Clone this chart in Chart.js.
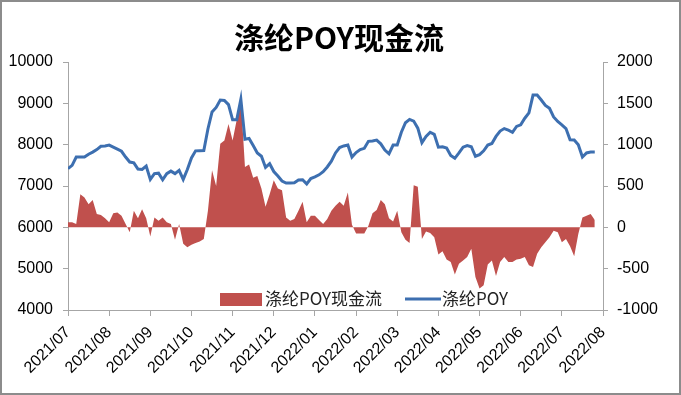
<!DOCTYPE html>
<html>
<head>
<meta charset="utf-8">
<script src="https://cdn.jsdelivr.net/npm/chart.js@4/dist/chart.umd.min.js"></script>
<style>
  body { margin: 0; background: #fff; }
  #wrap { width: 681px; height: 395px; }
</style>
</head>
<body>
<div id="wrap"><canvas id="grafico" width="681" height="395"></canvas></div>
<script>
// 月份刻度 (x 轴)
const meses = ['2021/07', '2021/08', '2021/09', '2021/10', '2021/11', '2021/12', '2022/01',
  '2022/02', '2022/03', '2022/04', '2022/05', '2022/06', '2022/07', '2022/08'];

// 每 0.1 个月取一个点
const passo = 0.1;

// 涤纶POY 价格 (左轴)
const precoPOY = [
  7420, 7500, 7700, 7700, 7700, 7770, 7820, 7880, 7960, 7970,
  7990, 7940, 7890, 7840, 7700, 7580, 7560, 7410, 7400, 7480,
  7160, 7300, 7310, 7150, 7300, 7360, 7300, 7380, 7160, 7400,
  7680, 7850, 7854, 7860, 8380, 8790, 8900, 9080, 9070, 8970,
  8600, 8600, 9100, 8130, 8150, 7980, 7800, 7720, 7450, 7540,
  7350, 7240, 7120, 7070, 7070, 7080, 7145, 7150, 7050, 7180,
  7220, 7270, 7345, 7460, 7600, 7800, 7930, 7970, 7990, 7700,
  7810, 7880, 7912, 8080, 8090, 8110, 8020, 7870, 7780, 7990,
  7990, 8300, 8530, 8610, 8570, 8400, 8050, 8200, 8300, 8250,
  7940, 7950, 7920, 7740, 7670, 7800, 7940, 7980, 7950, 7720,
  7760, 7850, 7990, 8030, 8200, 8330, 8390, 8350, 8300, 8440,
  8480, 8640, 8770, 9200, 9200, 9080, 8950, 8880, 8670, 8560,
  8480, 8390, 8120, 8112, 8000, 7700, 7800, 7820, 7820
];

// 涤纶POY 现金流 (右轴)
const fluxoCaixa = [
  60, 60, 40, 400, 360, 280, 330, 160, 150, 110,
  60, 170, 180, 140, 40, -60, 200, 110, 220, 110,
  -110, 120, 80, 120, 60, 40, -150, 40, -200, -240,
  -210, -190, -170, -140, 200, 690, 500, 1010, 1050, 1250,
  1050, 1300, 1560, 730, 760, 600, 620, 470, 250, 400,
  570, 470, 450, 120, 80, 100, 200, 310, 60, 140,
  140, 90, 40, 100, 200, 260, 310, 260, 420, 30,
  -75, -75, -75, 20, 170, 210, 330, 280, 110, 70,
  200, -60, -150, -190, 510, 490, -140, -50, -70, -120,
  -330, -290, -390, -420, -570, -440, -400, -360, -260, -600,
  -740, -700, -450, -400, -590, -420, -360, -420, -420, -390,
  -380, -360, -460, -480, -320, -240, -180, -120, -40, -60,
  -180, -140, -230, -350, -80, 120, 140, 160, 90
];

const pontosPOY = precoPOY.map((v, i) => ({ x: i * passo, y: v }));
const pontosFluxo = fluxoCaixa.map((v, i) => ({ x: i * passo, y: v }));

const corEixo = '#a6a6a6';
const fonteEixo = { family: 'Liberation Sans', size: 16 };

// título, legenda dentro da área e moldura
const extras = {
  id: 'extras',
  beforeDraw(chart) {
    const ctx = chart.ctx;
    ctx.save();
    ctx.fillStyle = '#fff';
    ctx.fillRect(0, 0, chart.width, chart.height);
    ctx.restore();
  },
  afterDraw(chart) {
    const ctx = chart.ctx;
    const area = chart.chartArea;
    ctx.save();
    ctx.fillStyle = '#000';
    ctx.font = 'bold 30px "Noto Sans CJK SC"';
    ctx.textAlign = 'center';
    ctx.textBaseline = 'middle';
    ctx.fillText('涤纶POY现金流', 339, 38);

    const yLeg = area.bottom - 11;
    const dsArea = chart.data.datasets[1];
    const dsLinha = chart.data.datasets[0];
    ctx.font = '17px "Noto Sans CJK SC"';
    ctx.textAlign = 'left';
    ctx.fillStyle = dsArea.backgroundColor;
    ctx.fillRect(area.left + 152, yLeg - 6, 42, 13);
    ctx.fillStyle = '#222';
    ctx.fillText(dsArea.label, area.left + 197, yLeg);
    ctx.strokeStyle = dsLinha.borderColor;
    ctx.lineWidth = 3;
    ctx.beginPath();
    ctx.moveTo(area.left + 337, yLeg);
    ctx.lineTo(area.left + 373, yLeg);
    ctx.stroke();
    ctx.fillText(dsLinha.label, area.left + 374, yLeg);

    ctx.strokeStyle = '#8c8c8c';
    ctx.lineWidth = 2;
    ctx.strokeRect(1, 1, chart.width - 2, chart.height - 2);
    ctx.restore();
  }
};

new Chart(document.getElementById('grafico'), {
  type: 'line',
  data: {
    datasets: [
      {
        label: '涤纶POY',
        data: pontosPOY,
        yAxisID: 'y',
        borderColor: '#3d6fb0',
        borderWidth: 3,
        pointRadius: 0,
        fill: false,
        order: 0
      },
      {
        label: '涤纶POY现金流',
        data: pontosFluxo,
        yAxisID: 'y2',
        borderWidth: 0,
        borderColor: '#c0504d',
        backgroundColor: '#c0504d',
        pointRadius: 0,
        fill: 'origin',
        order: 1
      }
    ]
  },
  options: {
    responsive: false,
    animation: false,
    devicePixelRatio: 1,
    layout: { padding: { top: 62, left: 0, right: 0, bottom: 0 } },
    plugins: {
      legend: { display: false },
      title: { display: false },
      tooltip: { enabled: false }
    },
    scales: {
      x: {
        type: 'linear',
        min: 0,
        max: 13,
        grid: { drawOnChartArea: false, color: corEixo, tickLength: 6 },
        border: { color: corEixo },
        ticks: {
          stepSize: 1,
          autoSkip: false,
          minRotation: 45,
          maxRotation: 45,
          color: '#000',
          font: fonteEixo,
          padding: 7,
          callback: v => meses[v]
        },
        afterFit: s => { s.height = 85; }
      },
      y: {
        position: 'left',
        min: 4000,
        max: 10000,
        grid: { drawOnChartArea: false, color: corEixo, tickLength: 5 },
        border: { color: corEixo },
        ticks: { stepSize: 1000, color: '#000', font: fonteEixo, padding: 10, callback: v => String(v) },
        afterFit: s => { s.width = 68; }
      },
      y2: {
        position: 'right',
        min: -1000,
        max: 2000,
        grid: { drawOnChartArea: false, color: corEixo, tickLength: 5 },
        border: { color: corEixo },
        ticks: { stepSize: 500, color: '#000', font: fonteEixo, padding: 9, callback: v => String(v) },
        afterFit: s => { s.width = 78; }
      }
    }
  },
  plugins: [extras]
});
</script>
</body>
</html>
